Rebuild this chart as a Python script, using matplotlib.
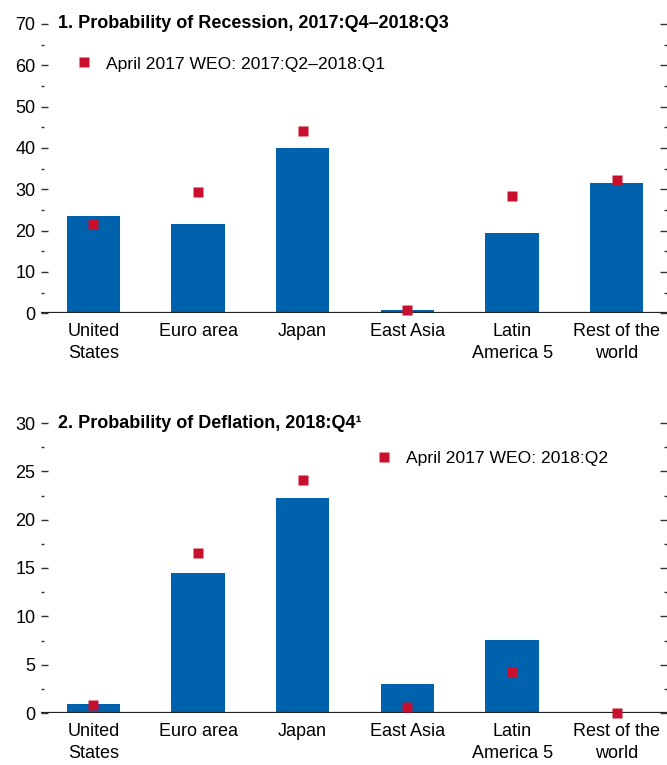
import numpy as np
import matplotlib
matplotlib.use("Agg")
import matplotlib.pyplot as plt
from matplotlib.ticker import MultipleLocator

# ----------------------------
# Data
# ----------------------------

regions = ["United\nStates", "Euro area", "Japan", "East Asia",
           "Latin\nAmerica 5", "Rest of the\nworld"]

recession = [23.6, 21.6, 40.0, 0.8, 19.4, 31.6]
recession_weo = [21.5, 29.4, 44.0, 0.7, 28.4, 32.3]

deflation = [0.9, 14.5, 22.2, 3.0, 7.6, 0.0]
deflation_weo = [0.8, 16.6, 24.1, 0.6, 4.2, 0.0]

title_top = "1. Probability of Recession, 2017:Q4\u20132018:Q3"
title_bot = "2. Probability of Deflation, 2018:Q4\u00b9"
legend_top = "April 2017 WEO: 2017:Q2\u20132018:Q1"
legend_bot = "April 2017 WEO: 2018:Q2"

# ----------------------------
# Style
# ----------------------------

plt.rcParams["font.family"] = ["Liberation Sans", "DejaVu Sans"]
plt.rcParams["font.size"] = 13

bar_color = "#0061AC"
dot_color = "#C8102E"

fig = plt.figure(figsize=(6.67, 7.65), dpi=100)

W, H = 667, 765
ax1 = fig.add_axes([41/W, 1-313.3/H, 626/W, 289.3/H])
ax2 = fig.add_axes([41/W, 1-713/H, 626/W, 290/H])

x = np.arange(len(regions))


def draw_panel(ax, bars, weo, ymax, major, minor, title, leg_text, leg_xy):
    ax.bar(x, bars, width=0.51, color=bar_color, zorder=2)
    ax.axhline(0, color="#222222", lw=1.6, zorder=3)
    ax.plot(x, weo, ls="none", marker="s", ms=7.5, color=dot_color,
            mec="none", zorder=4, clip_on=False, label=leg_text)

    ax.set_xlim(-0.5, 5.48)
    ax.set_ylim(0, ymax)
    ax.set_xticks(x)
    ax.set_xticklabels(regions, fontsize=13, linespacing=1.4, va="top")
    ax.tick_params(axis="x", length=0, pad=7)

    ax.yaxis.set_major_locator(MultipleLocator(major))
    ax.yaxis.set_minor_locator(MultipleLocator(minor))
    ax.tick_params(axis="y", which="major", direction="in", left=True, right=True,
                   length=5, width=1, color="#333333", pad=4, labelsize=13)
    ax.tick_params(axis="y", which="minor", direction="in", left=True, right=True,
                   length=2, width=1, color="#333333")

    for s in ax.spines.values():
        s.set_visible(False)

    ax.text(0.027, 1.0, title, transform=ax.transAxes, ha="left", va="center",
            fontsize=13, fontweight="bold")

    ax.legend(loc="center left", bbox_to_anchor=leg_xy, frameon=False,
              handlelength=1.0, handletextpad=0.8, borderpad=0,
              borderaxespad=0, fontsize=12.6, numpoints=1)


draw_panel(ax1, recession, recession_weo, 70, 10, 5, title_top, legend_top, (0.0543, 0.862))
draw_panel(ax2, deflation, deflation_weo, 30, 5, 2.5, title_bot, legend_bot, (0.5335, 0.879))

fig.savefig("out.png", dpi=100)
